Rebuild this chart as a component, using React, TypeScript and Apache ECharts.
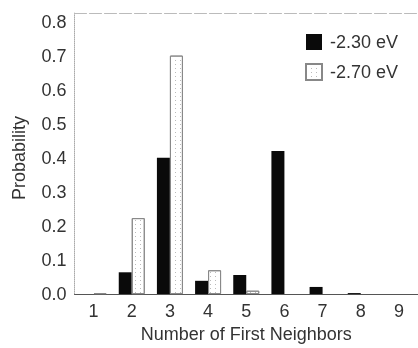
import React, { useEffect, useRef } from "react";
import * as echarts from "echarts";

const categories = ["1", "2", "3", "4", "5", "6", "7", "8", "9"];
const seriesNames = ["-2.30 eV", "-2.70 eV"];
const values230 = [0, 0.064, 0.4, 0.039, 0.056, 0.42, 0.021, 0.003, 0];
const values270 = [0.003, 0.223, 0.7, 0.07, 0.01, 0, 0, 0, 0];
const yMin = 0;
const yMax = 0.825;
const yStep = 0.1;

const FONT = "'Liberation Sans', Arial, Helvetica, sans-serif";
const TXT = "#333";

const asBars = (vals: number[]) => vals.map((v) => (v === 0 ? null : v));

export default function App() {
  const ref = useRef<HTMLDivElement>(null);
  useEffect(() => {
    if (!ref.current) return;
    const chart = echarts.init(ref.current, null, { renderer: "svg" });
    chart.setOption({
      animation: false,
      textStyle: { fontFamily: FONT },
      grid: { left: 74.5, top: 13, bottom: 49, right: -7.5, containLabel: false },
      legend: {
        left: 305,
        top: 33,
        padding: 0,
        orient: "vertical",
        itemWidth: 16,
        itemHeight: 16,
        itemGap: 12,
        icon: "rect",
        textStyle: { fontSize: 18, color: TXT, fontFamily: FONT, padding: [0, 0, 0, 3] },
        data: seriesNames,
      },
      xAxis: [
        {
          type: "category",
          data: categories,
          axisLine: { lineStyle: { color: "#555", width: 1 } },
          axisTick: { show: false },
          axisLabel: { fontSize: 18, color: TXT, margin: 8, fontFamily: FONT },
          name: "Number of First Neighbors",
          nameLocation: "middle",
          nameGap: 30,
          nameTextStyle: { fontSize: 18, color: TXT, fontFamily: FONT },
        },
        {
          type: "category",
          data: categories,
          position: "top",
          axisLine: { lineStyle: { color: "#bbb", width: 1, type: [12, 3] } },
          axisTick: { show: false },
          axisLabel: { show: false },
        },
      ],
      yAxis: {
        type: "value",
        min: yMin,
        max: yMax,
        interval: yStep,
        axisLine: { show: true, lineStyle: { color: "#aaa", width: 1, type: "dotted" } },
        axisTick: { show: false },
        splitLine: { show: false },
        axisLabel: {
          fontSize: 18,
          color: TXT,
          margin: 8,
          fontFamily: FONT,
          showMaxLabel: false,
          formatter: (v: number) => v.toFixed(1),
        },
        name: "Probability",
        nameLocation: "middle",
        nameRotate: 90,
        nameGap: 47,
        nameTextStyle: { fontSize: 18, color: TXT, fontFamily: FONT, padding: [0, 9, 0, 0] },
      },
      series: [
        {
          name: seriesNames[0],
          type: "bar",
          data: asBars(values230),
          barWidth: 13,
          barGap: "0%",
          itemStyle: { color: "#0a0a0a" },
        },
        {
          name: seriesNames[1],
          type: "bar",
          data: asBars(values270),
          barWidth: 13,
          barGap: "0%",
          itemStyle: {
            color: "#fff",
            borderColor: "#888",
            borderWidth: 1,
            decal: {
              symbol: "rect",
              symbolSize: 1,
              color: "#bbb",
              dashArrayX: [1, 4],
              dashArrayY: [1, 3],
              rotation: 0,
            },
          },
        },
      ],
    });
    return () => chart.dispose();
  }, []);
  return (
    <div
      ref={ref}
      style={{ position: "fixed", left: 0, top: 0, width: 418, height: 348 }}
    />
  );
}
